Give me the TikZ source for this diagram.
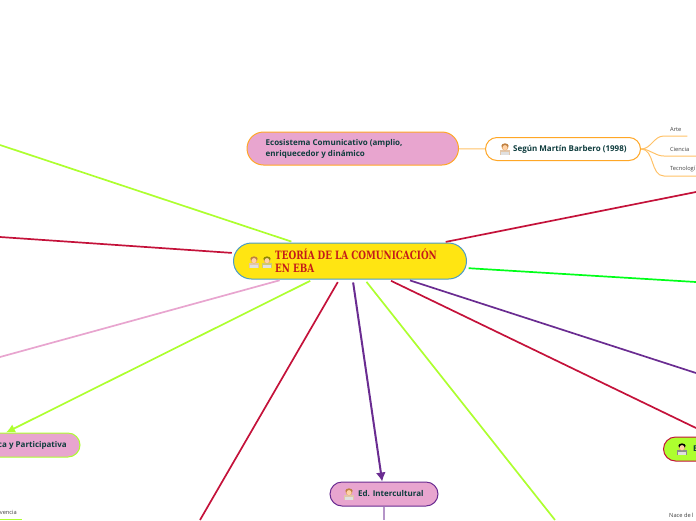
\documentclass[tikz,border=0pt]{standalone}
\usepackage{fontspec}
\setmainfont{Open Sans}
\newfontfamily\titlefont[FakeStretch=0.77]{DejaVu Serif}
\usepackage{xcolor}
\usetikzlibrary{
  calc,
  positioning,
  arrows.meta,
  shapes.misc
}
\definecolor{limeline}{HTML}{ADFF2F}
\definecolor{crimsonline}{HTML}{C4123A}
\definecolor{purpleline}{HTML}{6A2C91}
\definecolor{pinkfill}{HTML}{E8A5CF}
\definecolor{orangeline}{HTML}{FFA726}
\definecolor{tealtext}{HTML}{0F3D3E}
\definecolor{ebafill}{HTML}{FFE512}
\definecolor{ebaline}{HTML}{4A9CC8}
\definecolor{ebatext}{HTML}{C41A1A}

\begin{document}
\begin{tikzpicture}[>=Latex]
  \tikzset{
    topicbox/.style={
      rounded rectangle,draw,line width=1pt,fill=pinkfill,
      minimum height=24pt,inner sep=0pt
    },
    topictext/.style={
      anchor=west,inner sep=0pt,align=left,text=tealtext,
      font=\bfseries\fontsize{8}{11}\selectfont
    },
    leaflabel/.style={
      font=\fontsize{5.7}{7}\selectfont,text=black!75,anchor=south west,
      inner xsep=6pt,inner ysep=4pt,align=left
    },
    spoke/.style={line width=1.7pt,shorten <=3pt},
    branch/.style={line width=1pt,orangeline!70},
    pics/person/.style={
      code={
        \fill[#1!45!white] (-5pt,-6pt) rectangle (5pt,-1pt);
        \fill[black!12] (-4pt,-6pt) rectangle (4pt,-3pt);
        \fill[orange!40!brown!70!white] (0,2pt) circle (3.4pt);
        \fill[#1] (0,3.2pt) ellipse (3.6pt and 2.4pt);
        \fill[orange!35!white] (0,1.4pt) circle (2.5pt);
      }
    },
  }
  \clip (0,0) rectangle (696pt,-520pt);

  \coordinate (limeA) at (0,-145pt);
  \coordinate (redA) at (0,-237pt);
  \coordinate (pinkA) at (0,-357pt);
  \coordinate (redB) at (200pt,-520pt);
  \coordinate (limeB) at (555pt,-520pt);
  \coordinate (redC) at (696pt,-428pt);
  \coordinate (purpleA) at (696pt,-373pt);
  \coordinate (greenA) at (696pt,-282pt);
  \coordinate (redD) at (696pt,-192pt);
  \coordinate (interEnd) at (384pt,-520pt);

  \node[rounded rectangle,draw=ebaline,line width=1pt,fill=ebafill,
    minimum width=233pt,minimum height=36pt,inner sep=0pt,anchor=west] (eba) at (233pt,-261pt) {};
  \node[anchor=west,inner sep=0pt,align=left,text=ebatext,
    font=\titlefont\bfseries\fontsize{11.5}{13}\selectfont] (ebatitle) at (275pt,-260.5pt)
    {TEORÍA DE LA COMUNICACIÓN\\EN EBA};

  \node[topicbox,draw=orangeline,minimum width=211.5pt,minimum height=33pt,anchor=west] (eco) at (246.5pt,-148.5pt) {};
  \node[topictext] (ecotext) at (265.5pt,-148.5pt)
    {Ecosistema Comunicativo (amplio,\\enriquecedor y dinámico};

  \node[topicbox,draw=orangeline,fill=white,minimum width=155pt,minimum height=23pt,anchor=west] (segun) at (485pt,-149pt) {};
  \node[topictext] (seguntext) at (513pt,-149pt) {Según Martín Barbero (1998)};

  \node[topicbox,draw=purpleline,minimum width=108pt,anchor=center] (inter) at (384pt,-494pt) {};
  \node[topictext] (intertext) at (358pt,-494pt) {Ed. Intercultural};

  \node[topicbox,draw=limeline,minimum width=198pt,anchor=center] (partic) at (-19pt,-445pt) {};
  \node[topictext,anchor=east] (partictext) at (67pt,-445pt) {ca y Participativa};

  \node[topicbox,draw=crimsonline,fill=limeline,minimum width=120pt,anchor=west] (edright) at (663pt,-449pt) {};
  \node[topictext] (edrighttext) at (693pt,-449pt) {E};

  \draw[spoke,limeline] (eba) -- (limeA);
  \draw[spoke,crimsonline] (eba) -- (redA);
  \draw[spoke,pinkfill] (eba) -- (pinkA);
  \draw[spoke,limeline,-{Latex[length=9pt,width=9pt]}] (eba) -- (partic);
  \draw[spoke,crimsonline] (eba) -- (redB);
  \draw[spoke,purpleline,line width=2pt,-{Latex[length=9pt,width=10pt]}] (eba) -- (inter);
  \draw[spoke,limeline] (eba) -- (limeB);
  \draw[spoke,crimsonline] (eba) -- (redC);
  \draw[spoke,purpleline] (eba) -- (purpleA);
  \draw[spoke,green!90!cyan] (eba) -- (greenA);
  \draw[spoke,crimsonline] (eba) -- (redD);
  \draw[branch] (eco) -- (segun);
  \draw[line width=1.2pt,purpleline!50] (inter) -- (interEnd);

  \node[leaflabel,text width=11pt] (arte) at (664pt,-136pt) {Arte};
  \node[leaflabel,text width=26pt] (ciencia) at (664pt,-156pt) {Ciencia};
  \node[leaflabel,text width=26pt] (tecno) at (664pt,-176pt) {Tecnologí};
  \node[leaflabel,anchor=south east,inner xsep=5pt] (conv) at (22pt,-519pt) {vencia};
  \node[leaflabel,anchor=west,inner xsep=0pt] (nace) at (669pt,-515pt) {Nace de l};

  \draw[branch] (segun.east) to[out=0,in=180] (arte.south west) -- (arte.south east);
  \draw[branch] (segun.east) to[out=0,in=180] (ciencia.south west) -- (ciencia.south east);
  \draw[branch] (segun.east) to[out=0,in=180] (tecno.south west) -- (tecno.south east);
  \draw[line width=1pt,limeline] (conv.south west) -- (conv.south east);

  \pic at (254pt,-262pt) {person=brown};
  \pic at (267pt,-262pt) {person=olive};
  \pic at (505pt,-149pt) {person=brown};
  \pic at (349pt,-494pt) {person=brown};
  \pic at (682pt,-449pt) {person=black};
\end{tikzpicture}
\end{document}
